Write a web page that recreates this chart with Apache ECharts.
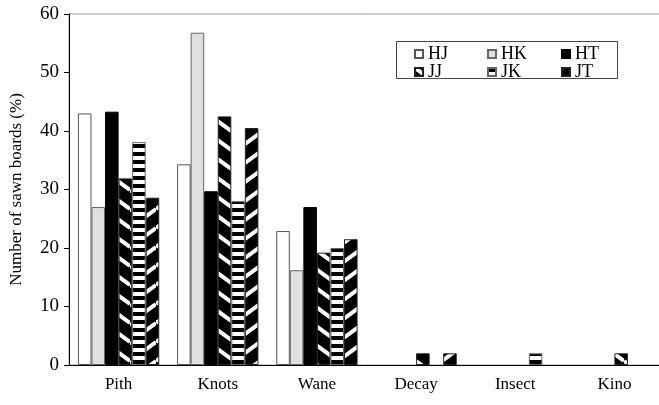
<!DOCTYPE html>
<html>
<head>
<meta charset="utf-8">
<script src="https://cdn.jsdelivr.net/npm/echarts@6/dist/echarts.min.js"></script>
<style>
  html, body { margin: 0; padding: 0; background: #fff; }
  #chart { width: 659px; height: 405px; }
</style>
</head>
<body>
<div id="chart"></div>
<script>
// Defect types found on sawn boards
const categories = ['Pith', 'Knots', 'Wane', 'Decay', 'Insect', 'Kino'];
const seriesNames = ['HJ', 'HK', 'HT', 'JJ', 'JK', 'JT'];

// Share of sawn boards (%) with each defect, per sample group
const valuesHJ = [43.0, 34.3, 22.9, 0, 0, 0];
const valuesHK = [27.0, 56.8, 16.2, 0, 0, 0];
const valuesHT = [43.3, 29.7, 27.0, 0, 0, 0];
const valuesJJ = [31.9, 42.5, 19.2, 2.0, 0, 2.0];
const valuesJK = [38.1, 28.0, 20.0, 0, 2.0, 0];
const valuesJT = [28.6, 40.5, 21.5, 2.0, 0, 0];

const yTicks = [0, 10, 20, 30, 40, 50, 60];

const FONT = '"Liberation Serif", "Times New Roman", serif';

// Pattern tiles drawn on small canvases
function makeTile(w, h, draw) {
  const c = document.createElement('canvas');
  c.width = w; c.height = h;
  const ctx = c.getContext('2d');
  draw(ctx, w, h);
  return { image: c, repeat: 'repeat' };
}
function diagonal(dir) {
  return makeTile(26, 19, (ctx, w, h) => {
    ctx.fillStyle = '#000';
    ctx.fillRect(0, 0, w, h);
    ctx.strokeStyle = '#fff';
    ctx.lineWidth = 4;
    for (let k = -1; k <= 1; k++) {
      ctx.beginPath();
      if (dir > 0) {
        ctx.moveTo(0, k * h); ctx.lineTo(w, k * h + h);
      } else {
        ctx.moveTo(0, k * h + h); ctx.lineTo(w, k * h);
      }
      ctx.stroke();
    }
  });
}
const stripes = makeTile(8, 8, (ctx, w, h) => {
  ctx.fillStyle = '#000';
  ctx.fillRect(0, 0, w, h);
  ctx.fillStyle = '#fff';
  ctx.fillRect(0, 4, w, 4);
});

const fills = {
  HJ: '#ffffff',
  HK: '#e0e0e0',
  HT: '#000000',
  JJ: diagonal(1),
  JK: stripes,
  JT: diagonal(-1)
};
const borders = { HJ: '#555', HK: '#666', HT: '#000', JJ: '#222', JK: '#666', JT: '#222' };
const dataByName = { HJ: valuesHJ, HK: valuesHK, HT: valuesHT, JJ: valuesJJ, JK: valuesJK, JT: valuesJT };

const series = seriesNames.map(name => ({
  name: name,
  type: 'bar',
  barGap: '0%',
  barCategoryGap: '18%',
  // empty bars get no outline so nothing shows on the baseline
  data: dataByName[name].map(v => v === 0 ? { value: v, itemStyle: { borderWidth: 0, opacity: 0 } } : v),
  itemStyle: { color: fills[name], borderColor: borders[name], borderWidth: 1 },
  emphasis: { disabled: true },
  animation: false
}));

// Legend laid out as a 3 x 2 grid
const legendPos = [
  [414, 45], [487, 45], [561, 45],
  [414, 63], [487, 63], [561, 63]
];
const legends = seriesNames.map((name, i) => ({
  data: [name],
  left: legendPos[i][0],
  top: legendPos[i][1],
  padding: 0,
  itemWidth: 8,
  itemHeight: 8,
  icon: 'rect',
  selectedMode: false,
  textStyle: { fontFamily: FONT, fontSize: 18, color: '#000', padding: [0, 0, 0, 0] }
}));

const chart = echarts.init(document.getElementById('chart'), null, { renderer: 'canvas' });
chart.setOption({
  animation: false,
  backgroundColor: '#fff',
  legend: legends,
  graphic: [{
    type: 'rect',
    shape: { x: 396.5, y: 41.5, width: 221, height: 37 },
    style: { fill: 'none', stroke: '#444', lineWidth: 1 },
    z: 100
  }],
  grid: {
    left: 69, top: 14, right: -5, bottom: 40,
    outerBoundsMode: 'none',
    containLabel: false,
    show: true, borderColor: '#999', borderWidth: 1, backgroundColor: 'transparent'
  },
  xAxis: {
    type: 'category',
    data: categories,
    axisLine: { lineStyle: { color: '#000', width: 1 } },
    axisTick: { show: false },
    axisLabel: { fontFamily: FONT, fontSize: 17, color: '#000', margin: 11 }
  },
  yAxis: {
    type: 'value',
    min: yTicks[0],
    max: yTicks[yTicks.length - 1],
    interval: 10,
    name: 'Number of sawn boards (%)',
    nameLocation: 'middle',
    nameGap: 44,
    nameTextStyle: { fontFamily: FONT, fontSize: 17, color: '#000' },
    axisLine: { show: true, lineStyle: { color: '#000', width: 1 } },
    axisTick: { show: true, length: 5, lineStyle: { color: '#000' } },
    splitLine: { show: false },
    axisLabel: { fontFamily: FONT, fontSize: 19, color: '#000', margin: 10 }
  },
  series: series
});
</script>
</body>
</html>
